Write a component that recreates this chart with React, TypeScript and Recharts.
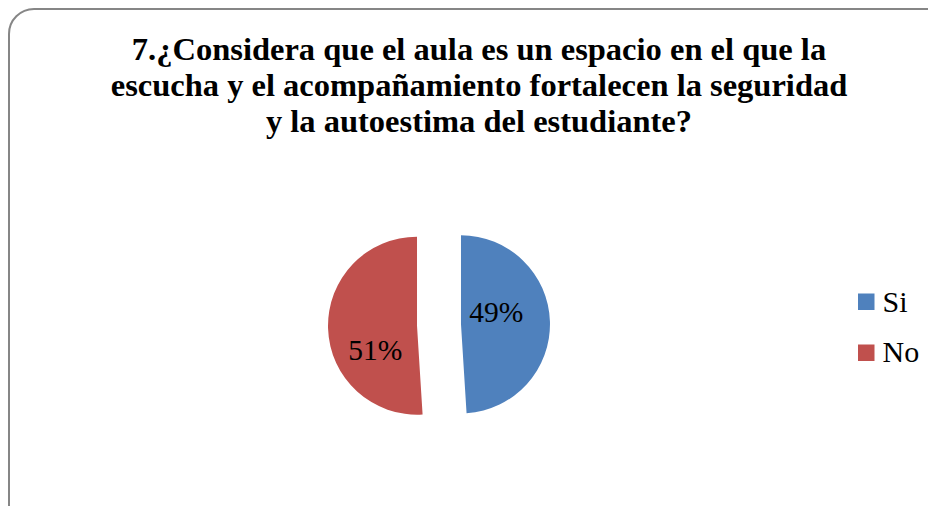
import { PieChart, Pie, Cell } from "recharts";

const categories = ["Si", "No"];
const shares = [49, 51];
const colors = ["#4F81BD", "#C0504D"];

const titleLines = [
  "7.¿Considera que el aula es un espacio en el que la",
  "escucha y el acompañamiento fortalecen la seguridad",
  "y la autoestima del estudiante?",
];

const W = 928;
const H = 498;
const CX = 431;
const CY = 317;
const R = 89;
const EXPLODE = 22;
const SERIF = '"Liberation Serif", "Times New Roman", serif';

// where each percentage sits inside its slice: share of radius, angle shift from the slice middle
const labelPlacement = [
  { f: 0.42, shift: 17 },
  { f: 0.54, shift: 28 },
];

const total = shares.reduce((a, b) => a + b, 0);
const data = categories.map((name, i) => ({ name, value: shares[i] }));

function sliceMid(i: number) {
  const before = shares.slice(0, i).reduce((a, b) => a + b, 0);
  const start = 90 - (360 * before) / total;
  return start - (360 * shares[i]) / total / 2;
}

function makeLabel(i: number) {
  return (props: any) => {
    if (props.index !== i) return null;
    const p = labelPlacement[i];
    const a = ((props.midAngle + p.shift) * Math.PI) / 180;
    const r = p.f * props.outerRadius;
    return (
      <text
        x={props.cx + r * Math.cos(a)}
        y={props.cy - r * Math.sin(a)}
        textAnchor="middle"
        dominantBaseline="central"
        style={{ fontFamily: SERIF, fontSize: 29.5 }}
        fill="#000"
      >
        {`${props.value}%`}
      </text>
    );
  };
}

export default function App() {
  return (
    <div
      style={{
        position: "relative",
        width: W,
        height: H,
        overflow: "hidden",
        background: "#fff",
        fontFamily: SERIF,
      }}
    >
      <div
        style={{
          position: "absolute",
          left: 0,
          top: 0,
          width: W + 40,
          height: H + 40,
          border: "2px solid #868686",
          borderRadius: 26,
          boxSizing: "border-box",
        }}
      />
      <PieChart
        width={W}
        height={H}
        margin={{ top: 0, right: 0, bottom: 0, left: 0 }}
        style={{ position: "absolute", left: 0, top: 0 }}
      >
        {categories.map((_, i) => {
          const m = (sliceMid(i) * Math.PI) / 180;
          return (
            <Pie
              key={i}
              data={data}
              dataKey="value"
              nameKey="name"
              cx={CX + EXPLODE * Math.cos(m)}
              cy={CY - EXPLODE * Math.sin(m)}
              outerRadius={R}
              startAngle={90}
              endAngle={-270}
              stroke="none"
              labelLine={false}
              label={makeLabel(i)}
              isAnimationActive={false}
            >
              {data.map((_, j) => (
                <Cell key={j} fill={j === i ? colors[j] : "transparent"} stroke="none" />
              ))}
            </Pie>
          );
        })}
      </PieChart>
      <svg
        width={W}
        height={H}
        style={{ position: "absolute", left: 0, top: 0, pointerEvents: "none" }}
      >
        {titleLines.map((line, i) => (
          <text
            key={i}
            x={471}
            y={52 + i * 36}
            textAnchor="middle"
            style={{ fontFamily: SERIF, fontWeight: "bold", fontSize: 32.5 }}
            fill="#000"
          >
            {line}
          </text>
        ))}
        {categories.map((name, i) => (
          <g key={name}>
            <rect x={850} y={285.5 + i * 51} width={16.5} height={16.5} fill={colors[i]} />
            <text
              x={874.5}
              y={304.3 + i * 50}
              style={{ fontFamily: SERIF, fontSize: 30 }}
              fill="#000"
            >
              {name}
            </text>
          </g>
        ))}
      </svg>
    </div>
  );
}
